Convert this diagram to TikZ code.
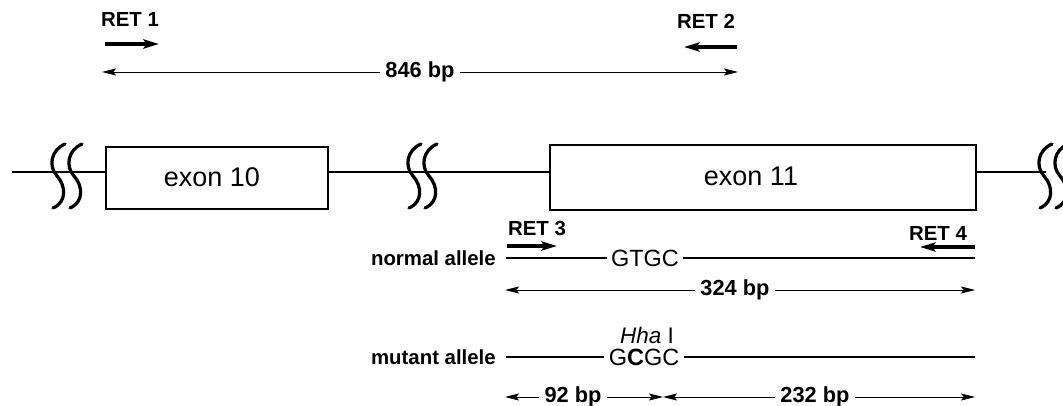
\documentclass[tikz,border=0pt]{standalone}
\usepackage{fontspec}
\setmainfont{Liberation Sans}
\usetikzlibrary{arrows.meta}

\tikzset{
  primer/.style={line width=2.2pt, -{Stealth[length=11pt,width=6.5pt,inset=2pt]}},
  span/.style={line width=0.7pt, -{Stealth[length=10pt,width=5pt,inset=2pt]}},
  backbone/.style={line width=1.6pt},
  exonbox/.style={draw, line width=2pt, fill=white, inner sep=0pt},
  exontxt/.style={inner sep=0pt, font=\fontsize{19.2}{21}\selectfont},
  lbl/.style={inner sep=0pt, font=\bfseries\fontsize{14.5}{16}\selectfont},
  bplbl/.style={inner sep=4pt, font=\bfseries\fontsize{15.5}{17}\selectfont},
  seq/.style={inner sep=3pt, font=\fontsize{16.7}{18}\selectfont},
  brk/.pic={
    \draw[line width=2.3pt, line cap=round]
      (8,-28) .. controls (-6,-22) and (-9,-6) .. (0,4)
      .. controls (9,14) and (10,30) .. (-4,36);
  }
}

\begin{document}
\begin{tikzpicture}[x=0.025cm, y=-0.025cm]
\useasboundingbox (0,0) rectangle (1063,406);

% --- Primers RET 1 / RET 2 and 846 bp product ---
\node[lbl] (ret1) at (130,19) {RET 1};
\node[lbl] (ret2) at (706,21) {RET 2};
\coordinate (p1s) at (105,44);
\coordinate (p1e) at (159,44);
\coordinate (p2s) at (737,47);
\coordinate (p2e) at (684,47);
\draw[primer] (p1s) -- (p1e);
\draw[primer] (p2s) -- (p2e);

\node[bplbl] (bp846) at (420,72) {846 bp};
\coordinate (a846l) at (102,72);
\coordinate (a846r) at (738,72);
\draw[span] (bp846.west) -- (a846l);
\draw[span] (bp846.east) -- (a846r);

% --- Genomic line with exons ---
\coordinate (g0) at (12,172);
\coordinate (g1) at (1046,172);
\draw[backbone] (g0) -- (g1);

\node[exonbox, minimum width=5.55cm, minimum height=1.55cm] (exon10) at (217,178) {};
\node[exontxt] (t10) at (212,177) {exon 10};
\node[exonbox, minimum width=10.65cm, minimum height=1.62cm] (exon11) at (763,177.5) {};
\node[exontxt] (t11) at (751,176) {exon 11};

% breaks
\foreach \x in {57,74,413,429,1044,1060}
  \pic at (\x,172) {brk};

% --- Primers RET 3 / RET 4 ---
\node[lbl] (ret3) at (537,228) {RET 3};
\node[lbl] (ret4) at (938,233) {RET 4};
\coordinate (p3s) at (507,246);
\coordinate (p3e) at (557,246);
\coordinate (p4s) at (975,247);
\coordinate (p4e) at (920,247);
\draw[primer] (p3s) -- (p3e);
\draw[primer] (p4s) -- (p4e);

% --- Normal allele ---
\node[lbl, anchor=east] (normal) at (496,258) {normal allele};
\node[seq] (gtgc) at (645,258) {GTGC};
\coordinate (n0) at (506,258);
\coordinate (n1) at (975,258);
\draw[backbone, line width=1.2pt] (n0) -- (gtgc.west);
\draw[backbone, line width=1.2pt] (gtgc.east) -- (n1);

\node[bplbl] (bp324) at (735,290) {324 bp};
\coordinate (a324l) at (505,290);
\coordinate (a324r) at (975,290);
\draw[span] (bp324.west) -- (a324l);
\draw[span] (bp324.east) -- (a324r);

% --- Mutant allele ---
\node[inner sep=0pt, font=\fontsize{16}{18}\selectfont] (hha) at (647,335) {\textit{Hha} I};
\node[lbl, anchor=east] (mutant) at (496,357) {mutant allele};
\node[seq] (gcgc) at (644,357) {G\textbf{C}GC};
\coordinate (m0) at (506,357);
\coordinate (m1) at (975,357);
\draw[backbone, line width=1.2pt] (m0) -- (gcgc.west);
\draw[backbone, line width=1.2pt] (gcgc.east) -- (m1);

\node[bplbl] (bp92) at (573,397) {92 bp};
\node[bplbl] (bp232) at (815,397) {232 bp};
\coordinate (a92l) at (505,397);
\coordinate (acut) at (663,397);
\coordinate (a232r) at (975,397);
\draw[span] (bp92.west) -- (a92l);
\draw[span] (bp92.east) -- (acut);
\draw[span] (bp232.west) -- (acut);
\draw[span] (bp232.east) -- (a232r);

\end{tikzpicture}
\end{document}
